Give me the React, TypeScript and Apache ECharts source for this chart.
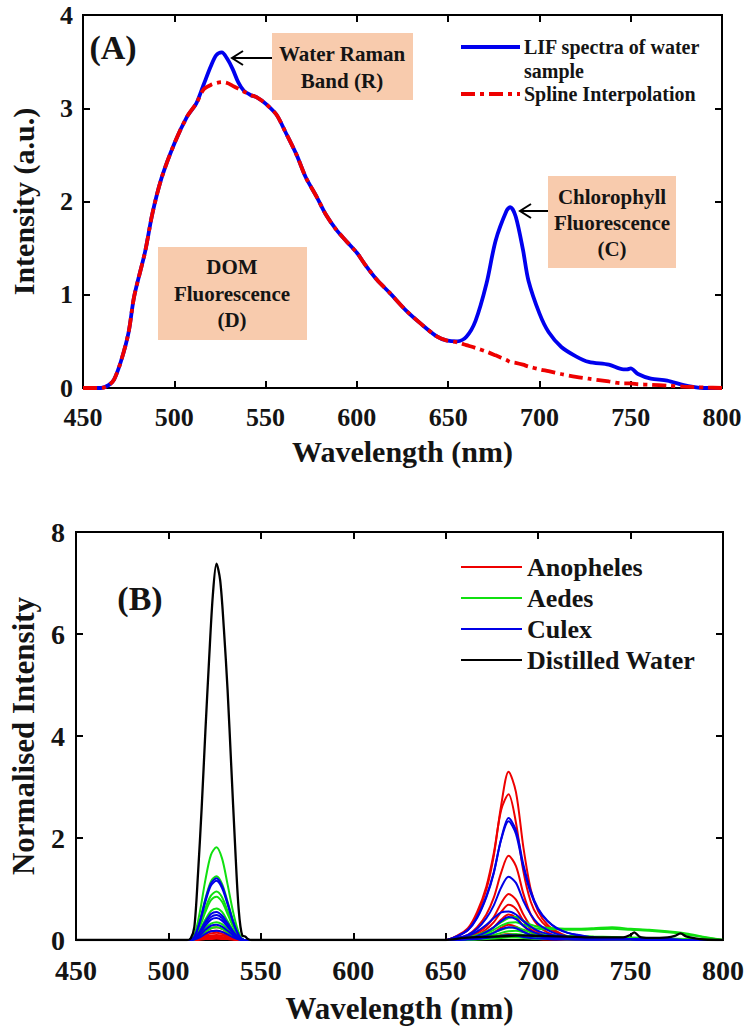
import React, { useEffect, useRef } from "react";
import * as echarts from "echarts";

const FONT = "'Liberation Serif', 'Times New Roman', serif";
const TEXT = "#141414";

// ---------- Panel A data ----------
const aWavelength = [450, 455, 460, 464, 467, 471, 475, 478, 484, 488, 493, 500, 507, 512, 516, 520, 523, 526, 529, 532, 535, 538, 542, 545, 550, 556, 561, 567, 572, 578, 583, 589, 594, 600, 605, 611, 618, 627, 635, 644, 649, 655, 660, 665, 671, 676, 682, 684, 687, 691, 694, 700, 705, 712, 720, 727, 738, 746, 748, 750, 754, 761, 770, 779, 785, 791, 800];
const lifValues = [0, 0, 0, 0.03, 0.09, 0.3, 0.6, 0.98, 1.46, 1.87, 2.25, 2.62, 2.91, 3.05, 3.25, 3.45, 3.57, 3.6, 3.53, 3.42, 3.28, 3.19, 3.14, 3.12, 3.05, 2.93, 2.74, 2.5, 2.26, 2.05, 1.86, 1.69, 1.58, 1.45, 1.31, 1.16, 1.02, 0.83, 0.69, 0.55, 0.51, 0.5, 0.55, 0.72, 1.12, 1.58, 1.9, 1.94, 1.84, 1.48, 1.15, 0.8, 0.6, 0.44, 0.34, 0.28, 0.25, 0.2, 0.2, 0.21, 0.15, 0.1, 0.08, 0.03, 0.01, 0, 0];
const splineValues = [0, 0, 0, 0.03, 0.09, 0.3, 0.6, 0.98, 1.46, 1.87, 2.25, 2.62, 2.91, 3.05, 3.2, 3.25, 3.27, 3.28, 3.27, 3.24, 3.21, 3.18, 3.14, 3.12, 3.05, 2.93, 2.74, 2.5, 2.26, 2.05, 1.86, 1.69, 1.58, 1.45, 1.31, 1.16, 1.02, 0.83, 0.69, 0.55, 0.51, 0.49, 0.46, 0.43, 0.39, 0.35, 0.3, 0.28, 0.27, 0.25, 0.23, 0.2, 0.18, 0.15, 0.12, 0.1, 0.07, 0.05, 0.05, 0.05, 0.04, 0.035, 0.025, 0.015, 0.01, 0.005, 0];

// ---------- Panel B data ----------
const ramanWl = [511, 514, 517, 520, 523, 526, 529, 532, 535, 538, 541];
const chlWl = [650, 656, 662, 667, 672, 676, 680, 684, 688, 692, 696, 700, 705, 710, 716, 722, 730, 740, 750, 760, 770, 780, 790, 800];

const anophelesRaman = [
  [0, 0.01, 0.08, 0.16, 0.23, 0.25, 0.22, 0.15, 0.08, 0.02, 0],
  [0, 0.01, 0.05, 0.12, 0.17, 0.18, 0.16, 0.11, 0.05, 0.01, 0],
  [0, 0.01, 0.04, 0.09, 0.13, 0.14, 0.12, 0.08, 0.04, 0.01, 0],
  [0, 0, 0.03, 0.07, 0.09, 0.1, 0.09, 0.06, 0.03, 0.01, 0],
  [0, 0, 0.02, 0.05, 0.06, 0.07, 0.06, 0.04, 0.02, 0, 0],
  [0, 0, 0.02, 0.03, 0.05, 0.05, 0.04, 0.03, 0.02, 0, 0],
  [0, 0, 0.01, 0.02, 0.03, 0.04, 0.03, 0.02, 0.01, 0, 0],
  [0, 0, 0.01, 0.02, 0.02, 0.03, 0.02, 0.02, 0.01, 0, 0],
];
const anophelesChl = [
  [0, 0.07, 0.2, 0.5, 0.99, 1.65, 2.64, 3.3, 2.9, 1.82, 0.99, 0.56, 0.3, 0.17, 0.07, 0.03, 0, 0, 0, 0, 0, 0, 0, 0],
  [0, 0.08, 0.23, 0.55, 1.05, 1.7, 2.55, 2.86, 2.3, 1.35, 0.75, 0.45, 0.25, 0.14, 0.06, 0.03, 0, 0, 0, 0, 0, 0, 0, 0],
  [0, 0.03, 0.1, 0.25, 0.5, 0.83, 1.32, 1.65, 1.45, 0.91, 0.5, 0.28, 0.15, 0.08, 0.03, 0.02, 0, 0, 0, 0, 0, 0, 0, 0],
  [0, 0.02, 0.05, 0.14, 0.27, 0.45, 0.72, 0.9, 0.79, 0.5, 0.27, 0.15, 0.08, 0.05, 0.02, 0.01, 0, 0, 0, 0, 0, 0, 0, 0],
  [0, 0.01, 0.04, 0.1, 0.21, 0.35, 0.55, 0.69, 0.61, 0.38, 0.21, 0.12, 0.06, 0.03, 0.01, 0, 0, 0, 0, 0, 0, 0, 0, 0],
  [0, 0.01, 0.03, 0.08, 0.15, 0.25, 0.4, 0.5, 0.44, 0.28, 0.15, 0.09, 0.05, 0.03, 0.01, 0, 0, 0, 0, 0, 0, 0, 0, 0],
  [0, 0.01, 0.02, 0.05, 0.09, 0.15, 0.24, 0.3, 0.26, 0.17, 0.09, 0.05, 0.03, 0.02, 0.01, 0, 0, 0, 0, 0, 0, 0, 0, 0],
  [0, 0, 0.01, 0.02, 0.04, 0.06, 0.1, 0.12, 0.11, 0.07, 0.04, 0.02, 0.01, 0.01, 0, 0, 0, 0, 0, 0, 0, 0, 0, 0],
];

const aedesRaman = [
  [0, 0.09, 0.55, 1.18, 1.67, 1.82, 1.6, 1.09, 0.55, 0.15, 0],
  [0, 0.06, 0.38, 0.81, 1.15, 1.25, 1.1, 0.75, 0.38, 0.1, 0],
  [0, 0.05, 0.29, 0.62, 0.87, 0.95, 0.84, 0.57, 0.29, 0.08, 0],
  [0, 0.04, 0.26, 0.55, 0.78, 0.85, 0.75, 0.51, 0.26, 0.07, 0],
  [0, 0.03, 0.19, 0.4, 0.57, 0.62, 0.55, 0.37, 0.19, 0.05, 0],
  [0, 0.02, 0.1, 0.23, 0.32, 0.35, 0.31, 0.21, 0.1, 0.03, 0],
  [0, 0.01, 0.08, 0.16, 0.23, 0.25, 0.22, 0.15, 0.08, 0.02, 0],
];
const aedesChl = [
  [0, 0.02, 0.05, 0.1, 0.17, 0.25, 0.35, 0.43, 0.45, 0.38, 0.3, 0.26, 0.24, 0.23, 0.22, 0.22, 0.23, 0.25, 0.22, 0.2, 0.17, 0.13, 0.06, 0],
  [0, 0.01, 0.04, 0.08, 0.13, 0.2, 0.28, 0.34, 0.35, 0.3, 0.25, 0.22, 0.21, 0.21, 0.2, 0.2, 0.21, 0.22, 0.2, 0.18, 0.15, 0.11, 0.05, 0],
  [0, 0.01, 0.03, 0.06, 0.1, 0.15, 0.2, 0.24, 0.25, 0.2, 0.15, 0.12, 0.1, 0.09, 0.08, 0.08, 0.07, 0.06, 0.05, 0.04, 0.03, 0.02, 0.01, 0],
  [0, 0.01, 0.02, 0.04, 0.07, 0.1, 0.14, 0.17, 0.18, 0.15, 0.11, 0.09, 0.08, 0.07, 0.06, 0.05, 0.05, 0.04, 0.04, 0.03, 0.02, 0.01, 0.01, 0],
  [0, 0, 0.01, 0.03, 0.05, 0.07, 0.09, 0.11, 0.12, 0.1, 0.08, 0.06, 0.05, 0.04, 0.04, 0.03, 0.03, 0.03, 0.02, 0.02, 0.01, 0.01, 0, 0],
  [0, 0, 0.01, 0.02, 0.03, 0.05, 0.06, 0.08, 0.08, 0.07, 0.05, 0.04, 0.03, 0.03, 0.02, 0.02, 0.02, 0.02, 0.01, 0.01, 0.01, 0, 0, 0],
  [0, 0, 0, 0.01, 0.02, 0.03, 0.04, 0.05, 0.05, 0.04, 0.03, 0.02, 0.02, 0.02, 0.01, 0.01, 0.01, 0.01, 0.01, 0, 0, 0, 0, 0],
];

const culexRaman = [
  [0, 0.06, 0.36, 0.79, 1.11, 1.21, 1.06, 0.73, 0.36, 0.1, 0],
  [0, 0.06, 0.35, 0.75, 1.07, 1.16, 1.02, 0.7, 0.35, 0.09, 0],
  [0, 0.03, 0.17, 0.36, 0.51, 0.55, 0.48, 0.33, 0.17, 0.04, 0],
  [0, 0.02, 0.15, 0.32, 0.45, 0.49, 0.43, 0.29, 0.15, 0.04, 0],
  [0, 0.02, 0.13, 0.28, 0.4, 0.43, 0.38, 0.26, 0.13, 0.03, 0],
  [0, 0.02, 0.09, 0.2, 0.28, 0.3, 0.26, 0.18, 0.09, 0.02, 0],
  [0, 0.01, 0.05, 0.12, 0.17, 0.18, 0.16, 0.11, 0.05, 0.01, 0],
];
const culexChl = [
  [0, 0.07, 0.19, 0.43, 0.84, 1.31, 1.98, 2.39, 2.15, 1.48, 0.96, 0.62, 0.38, 0.24, 0.14, 0.1, 0.05, 0.03, 0.02, 0.02, 0.01, 0, 0, 0],
  [0, 0.07, 0.2, 0.45, 0.86, 1.33, 1.97, 2.33, 2.08, 1.42, 0.92, 0.6, 0.37, 0.23, 0.14, 0.09, 0.05, 0.03, 0.02, 0.02, 0.01, 0, 0, 0],
  [0, 0.04, 0.1, 0.22, 0.43, 0.68, 1.03, 1.24, 1.12, 0.77, 0.5, 0.32, 0.2, 0.12, 0.07, 0.05, 0.03, 0.02, 0.02, 0.01, 0.01, 0, 0, 0],
  [0, 0.03, 0.08, 0.17, 0.3, 0.43, 0.54, 0.56, 0.5, 0.37, 0.26, 0.18, 0.12, 0.08, 0.05, 0.04, 0.03, 0.02, 0.02, 0.01, 0.01, 0, 0, 0],
  [0, 0.01, 0.04, 0.08, 0.16, 0.25, 0.37, 0.45, 0.41, 0.28, 0.18, 0.12, 0.07, 0.05, 0.03, 0.02, 0.01, 0.01, 0.01, 0, 0, 0, 0, 0],
  [0, 0.01, 0.02, 0.05, 0.09, 0.14, 0.21, 0.25, 0.23, 0.16, 0.1, 0.07, 0.04, 0.03, 0.02, 0.01, 0.01, 0.01, 0.01, 0, 0, 0, 0, 0],
  [0, 0, 0.01, 0.02, 0.04, 0.06, 0.08, 0.1, 0.09, 0.06, 0.04, 0.03, 0.02, 0.01, 0.01, 0.01, 0.01, 0.02, 0.02, 0.01, 0.01, 0, 0, 0],
];

const waterRamanWl = [510, 512, 514, 516, 518, 520, 522, 524, 526, 528, 530, 532, 534, 536, 538, 540, 541.5, 543, 545];
const waterRamanValues = [0, 0.03, 0.25, 1.3, 2.6, 4.1, 5.5, 6.75, 7.38, 7.05, 6.1, 4.9, 3.4, 1.9, 0.6, 0.08, 0.07, 0.02, 0];
const waterChlWl = [650, 660, 670, 680, 690, 700, 710, 720, 730, 740, 746, 750, 752, 755, 760, 770, 774, 777, 780, 785, 790, 800];
const waterChlValues = [0, 0.04, 0.06, 0.07, 0.09, 0.08, 0.07, 0.06, 0.05, 0.05, 0.05, 0.1, 0.15, 0.06, 0.04, 0.05, 0.08, 0.13, 0.07, 0.03, 0.01, 0];

const legendNamesB = ["Anopheles", "Aedes", "Culex", "Distilled Water"];

function pairs(xs: number[], ys: number[]) {
  return xs.map((x, i) => [x, ys[i]]);
}

function bCurve(raman: number[], chl: number[]) {
  return [[450, 0], [505, 0], ...pairs(ramanWl, raman), [545, 0], [600, 0], [645, 0], ...pairs(chlWl, chl)];
}

const axisCommon = {
  type: "value" as const,
  splitLine: { show: false },
  axisLine: { show: true, onZero: false, lineStyle: { color: "#000", width: 2 } },
  axisTick: { show: true, inside: true, length: 7, lineStyle: { color: "#000", width: 2 } },
};

function xAxes(grid: number, fontSize: number, nameSize: number, nameGap: number) {
  return [
    {
      ...axisCommon,
      gridIndex: grid,
      position: "bottom",
      min: 450,
      max: 800,
      interval: 50,
      name: "Wavelength (nm)",
      nameLocation: "middle",
      nameGap,
      nameTextStyle: { fontFamily: FONT, fontWeight: "bold", fontSize: nameSize, color: TEXT },
      axisLabel: { fontFamily: FONT, fontWeight: "bold", fontSize, color: TEXT, margin: 16 },
    },
    {
      ...axisCommon,
      gridIndex: grid,
      position: "top",
      min: 450,
      max: 800,
      interval: 50,
      axisLabel: { show: false },
    },
  ];
}

function yAxes(grid: number, max: number, interval: number, name: string, fontSize: number, nameSize: number, nameGap: number, margin: number) {
  return [
    {
      ...axisCommon,
      gridIndex: grid,
      position: "left",
      min: 0,
      max,
      interval,
      name,
      nameLocation: "middle",
      nameRotate: 90,
      nameGap,
      nameTextStyle: { fontFamily: FONT, fontWeight: "bold", fontSize: nameSize, color: TEXT },
      axisLabel: { fontFamily: FONT, fontWeight: "bold", fontSize, color: TEXT, margin },
    },
    {
      ...axisCommon,
      gridIndex: grid,
      position: "right",
      min: 0,
      max,
      interval,
      axisLabel: { show: false },
    },
  ];
}

function boxText(cx: number, lines: [string, number][], size: number) {
  return lines.map(([t, y]) => ({
    type: "text",
    x: cx,
    y,
    z: 20,
    style: { text: t, font: `bold ${size}px ${FONT}`, fill: TEXT, align: "center", verticalAlign: "middle" },
  }));
}

function arrow(x1: number, x2: number, y: number) {
  return [
    { type: "line", z: 20, shape: { x1, y1: y, x2, y2: y }, style: { stroke: "#000", lineWidth: 2 } },
    {
      type: "polyline",
      z: 20,
      shape: { points: [[x2 + 11, y - 7], [x2, y], [x2 + 11, y + 7]] },
      style: { stroke: "#000", lineWidth: 2, fill: null },
    },
  ];
}

export default function App() {
  const ref = useRef<HTMLDivElement>(null);
  useEffect(() => {
    if (!ref.current) return;
    const chart = echarts.init(ref.current, null, { renderer: "svg" });

    const seriesB: any[] = [];
    const groups: [string, string, number[][], number[][]][] = [
      ["Anopheles", "#ee0000", anophelesRaman, anophelesChl],
      ["Aedes", "#10e010", aedesRaman, aedesChl],
      ["Culex", "#0000e6", culexRaman, culexChl],
    ];
    groups.forEach(([name, color, raman, chl]) => {
      raman.forEach((r, i) => {
        seriesB.push({
          type: "line",
          name,
          xAxisIndex: 2,
          yAxisIndex: 2,
          data: bCurve(r, chl[i]),
          symbol: "none",
          smooth: 0.3,
          lineStyle: { color, width: 2 },
          itemStyle: { color },
        });
      });
    });
    seriesB.push({
      type: "line",
      name: "Distilled Water",
      xAxisIndex: 2,
      yAxisIndex: 2,
      data: [[450, 0], [500, 0], ...pairs(waterRamanWl, waterRamanValues), [600, 0], ...pairs(waterChlWl, waterChlValues)],
      symbol: "none",
      smooth: 0.3,
      lineStyle: { color: "#000", width: 2.3 },
      itemStyle: { color: "#000" },
    });

    const option: any = {
      animation: false,
      backgroundColor: "#fff",
      grid: [
        { left: 78, top: 15, width: 644, height: 373, show: true, borderColor: "#000", borderWidth: 2, backgroundColor: "transparent" },
        { left: 73, top: 532, width: 650, height: 408, show: true, borderColor: "#000", borderWidth: 2, backgroundColor: "transparent" },
      ],
      xAxis: [...xAxes(0, 26, 30, 48), ...xAxes(1, 28, 31, 53)],
      yAxis: [
        ...yAxes(0, 4, 1, "Intensity (a.u.)", 26, 30, 45, 10),
        ...yAxes(1, 8, 2, "Normalised Intensity", 28, 31, 37, 11),
      ],
      legend: {
        data: legendNamesB,
        orient: "vertical",
        left: 456,
        top: 549,
        padding: 5,
        itemWidth: 61,
        itemHeight: 2,
        icon: "rect",
        itemGap: 5,
        lineStyle: { width: 2.5 },
        textStyle: { fontFamily: FONT, fontWeight: "bold", fontSize: 26, color: TEXT },
      },
      series: [
        {
          type: "line",
          name: "LIF spectra of water sample",
          xAxisIndex: 0,
          yAxisIndex: 0,
          data: pairs(aWavelength, lifValues),
          symbol: "none",
          smooth: 0.3,
          lineStyle: { color: "#0000ee", width: 3.8 },
          itemStyle: { color: "#0000ee" },
        },
        {
          type: "line",
          name: "Spline Interpolation",
          xAxisIndex: 0,
          yAxisIndex: 0,
          data: pairs(aWavelength, splineValues),
          symbol: "none",
          smooth: 0.3,
          lineStyle: { color: "#ee0000", width: 3.8, type: [14, 5, 4, 5] },
          itemStyle: { color: "#ee0000" },
        },
        ...seriesB,
      ],
      graphic: [
        // Panel labels
        { type: "text", x: 113, y: 47, z: 20, style: { text: "(A)", font: `bold 34px ${FONT}`, fill: TEXT, align: "center", verticalAlign: "middle" } },
        { type: "text", x: 140, y: 598, z: 20, style: { text: "(B)", font: `bold 34px ${FONT}`, fill: TEXT, align: "center", verticalAlign: "middle" } },
        // Water Raman box
        { type: "rect", z: 15, shape: { x: 272, y: 33, width: 141, height: 67 }, style: { fill: "#f8cbad" } },
        ...boxText(342, [["Water Raman", 54], ["Band (R)", 81]], 21),
        ...arrow(272, 232, 58),
        // DOM box
        { type: "rect", z: 15, shape: { x: 158, y: 247, width: 149, height: 93 }, style: { fill: "#f8cbad" } },
        ...boxText(232, [["DOM", 267], ["Fluorescence", 294], ["(D)", 320]], 21),
        // Chlorophyll box
        { type: "rect", z: 15, shape: { x: 548, y: 176, width: 128, height: 92 }, style: { fill: "#f8cbad" } },
        ...boxText(612, [["Chlorophyll", 197], ["Fluorescence", 223], ["(C)", 249]], 21),
        ...arrow(548, 520, 211),
        // Legend A
        { type: "line", z: 20, shape: { x1: 461, y1: 47, x2: 520, y2: 47 }, style: { stroke: "#0000ee", lineWidth: 3.8 } },
        { type: "line", z: 20, shape: { x1: 461, y1: 94, x2: 520, y2: 94 }, style: { stroke: "#ee0000", lineWidth: 3.8, lineDash: [14, 5, 4, 5] } },
        { type: "text", x: 524, y: 47, z: 20, style: { text: "LIF spectra of water", font: `bold 20px ${FONT}`, fill: TEXT, align: "left", verticalAlign: "middle" } },
        { type: "text", x: 524, y: 71, z: 20, style: { text: "sample", font: `bold 20px ${FONT}`, fill: TEXT, align: "left", verticalAlign: "middle" } },
        { type: "text", x: 524, y: 94, z: 20, style: { text: "Spline Interpolation", font: `bold 20px ${FONT}`, fill: TEXT, align: "left", verticalAlign: "middle" } },
      ],
    };
    chart.setOption(option);
    return () => chart.dispose();
  }, []);

  return <div ref={ref} style={{ position: "absolute", left: 0, top: 0, width: 750, height: 1034 }} />;
}
